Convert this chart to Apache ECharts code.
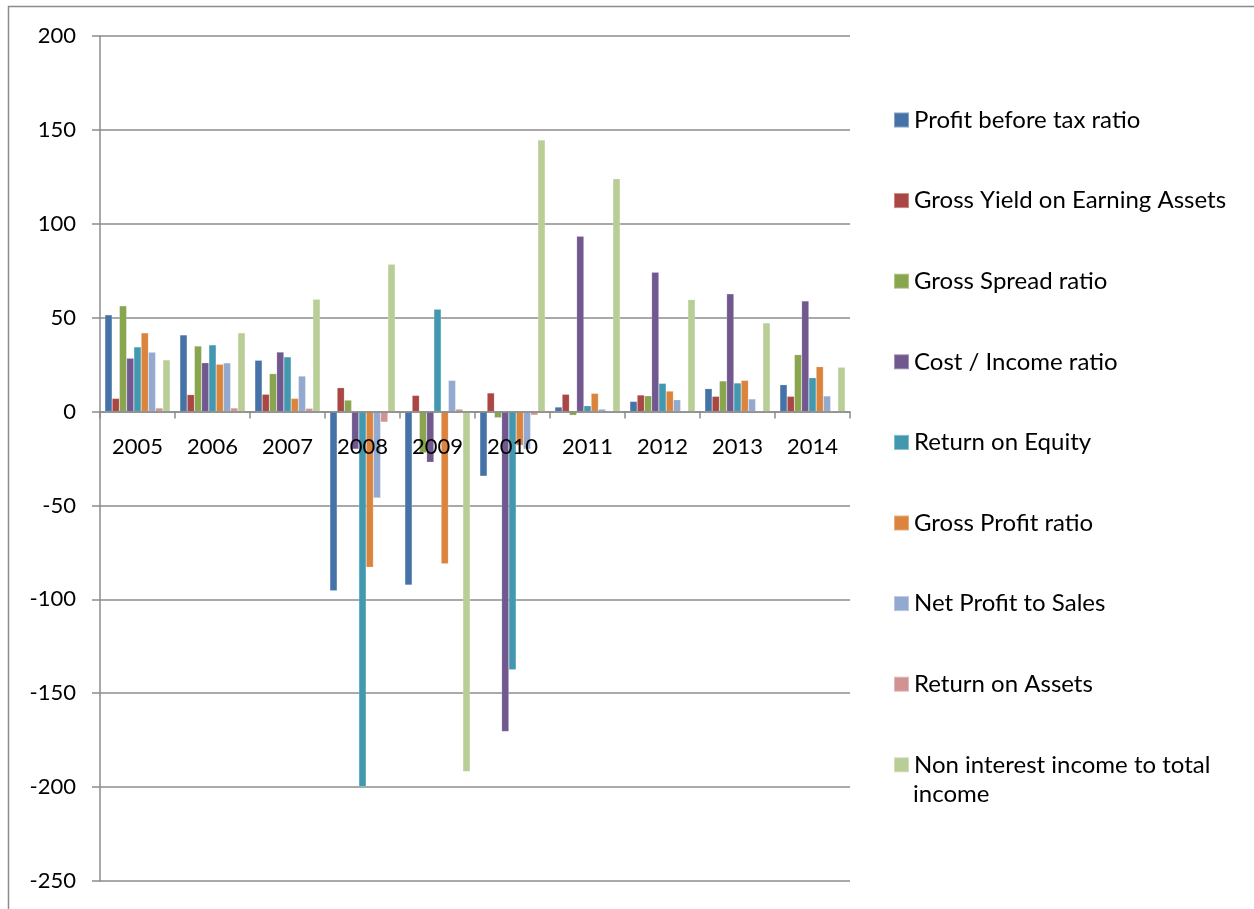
<!DOCTYPE html>
<html>
<head>
<meta charset="utf-8">
<script src="https://cdn.jsdelivr.net/npm/echarts@6/dist/echarts.min.js"></script>
<style>
  html, body { margin: 0; padding: 0; background: #fff; }
  #chart { width: 1254px; height: 909px; }
</style>
</head>
<body>
<div id="chart"></div>
<script>
// Years on the category axis
const years = ['2005', '2006', '2007', '2008', '2009', '2010', '2011', '2012', '2013', '2014'];

// Ratio series, one value per year
const profitBeforeTax   = [51.5, 40.8, 27.3, -95.4, -92.4, -34.4, 2.4, 5.4, 12.2, 14.3];
const grossYield        = [7.0, 9.0, 9.2, 12.7, 8.6, 9.9, 9.2, 8.8, 8.1, 8.1];
const grossSpread       = [56.3, 34.9, 20.2, 6.1, -22, -3.3, -2, 8.4, 16.3, 30.3];
const costIncome        = [28.4, 26.0, 31.7, -20, -27, -170.4, 93.4, 74.2, 62.7, 58.9];
const returnOnEquity    = [34.4, 35.5, 29.1, -199.7, 54.5, -137.5, 3.1, 15.0, 15.2, 18.0];
const grossProfit       = [41.9, 25.2, 7.0, -82.9, -81, -18, 9.7, 10.9, 16.6, 23.9];
const netProfitToSales  = [31.6, 25.9, 18.9, -46, 16.6, -20, 1.3, 6.3, 6.7, 8.3];
const returnOnAssets    = [1.9, 1.9, 1.7, -5.6, 1.3, -1.9, 0.3, 0.3, 0.3, 0.3];
const nonInterestIncome = [27.5, 41.9, 59.8, 78.5, -191.7, 144.6, 124, 59.6, 47.2, 23.6];

// Value axis range
const yMin = -250;
const yMax = 200;
const yStep = 50;

const seriesDefs = [
  { name: 'Profit before tax ratio', data: profitBeforeTax, color: '#4572A7' },
  { name: 'Gross Yield on Earning Assets', data: grossYield, color: '#AA4643' },
  { name: 'Gross Spread ratio', data: grossSpread, color: '#89A54E' },
  { name: 'Cost / Income ratio', data: costIncome, color: '#71588F' },
  { name: 'Return on Equity', data: returnOnEquity, color: '#4198AF' },
  { name: 'Gross Profit ratio', data: grossProfit, color: '#DB843D' },
  { name: 'Net Profit to Sales', data: netProfitToSales, color: '#93A9CF' },
  { name: 'Return on Assets', data: returnOnAssets, color: '#D19392' },
  { name: 'Non interest income to total income', data: nonInterestIncome, color: '#B9CD96' }
];

const FONT = 'Lato';
const AXIS_FONT_SIZE = 22;
const LEGEND_FONT_SIZE = 24;
const AXIS_GRAY = '#8c8c8c';

// Plot box in pixels
const GRID = { left: 100, top: 36, width: 750, height: 845 };
// Category labels sit just under the zero line rather than at the bottom edge
const zeroY = GRID.top + GRID.height * (yMax / (yMax - yMin));
const labelTop = zeroY + 24;
const xLabelMargin = labelTop - (GRID.top + GRID.height);

const chart = echarts.init(document.getElementById('chart'), null, { renderer: 'canvas' });

chart.setOption({
  animation: false,
  backgroundColor: '#ffffff',
  textStyle: { fontFamily: FONT },
  grid: {
    left: GRID.left, top: GRID.top, width: GRID.width, height: GRID.height,
    containLabel: false, outerBoundsMode: 'none'
  },
  legend: {
    orient: 'vertical',
    left: 893,
    top: 108,
    padding: 0,
    itemWidth: 15,
    itemHeight: 15,
    itemGap: 56.6,
    icon: 'rect',
    selectedMode: false,
    textStyle: { fontFamily: FONT, fontSize: LEGEND_FONT_SIZE, color: '#000', lineHeight: 24 },
    formatter: function (name) {
      return name === 'Non interest income to total income' ? 'Non interest income to total' : name;
    },
    data: seriesDefs.map(s => s.name)
  },
  graphic: [
    {
      type: 'rect',
      silent: true,
      shape: { x: 8.5, y: 6.5, width: 1400, height: 1000 },
      style: { fill: 'none', stroke: AXIS_GRAY, lineWidth: 1.5 }
    },
    {
      type: 'text',
      silent: true,
      left: 913,
      top: 782,
      style: { text: 'income', fontFamily: FONT, fontSize: LEGEND_FONT_SIZE, fill: '#000' }
    }
  ],
  xAxis: {
    type: 'category',
    data: years,
    axisLine: { onZero: true, lineStyle: { color: AXIS_GRAY, width: 1.5 } },
    axisTick: { show: true, length: 7, lineStyle: { color: AXIS_GRAY, width: 1.5 } },
    axisLabel: { color: '#000', fontSize: AXIS_FONT_SIZE, fontFamily: FONT, margin: xLabelMargin },
    splitLine: { show: false },
    z: 5
  },
  yAxis: {
    type: 'value',
    min: yMin,
    max: yMax,
    interval: yStep,
    axisLine: { show: true, lineStyle: { color: AXIS_GRAY, width: 1.5 } },
    axisTick: { show: true, length: 8, lineStyle: { color: AXIS_GRAY, width: 1.5 } },
    axisLabel: { color: '#000', fontSize: AXIS_FONT_SIZE, fontFamily: FONT, margin: 24 },
    splitLine: { show: true, lineStyle: { color: AXIS_GRAY, width: 1.5 } }
  },
  series: seriesDefs.map(s => ({
    name: s.name,
    type: 'bar',
    data: s.data,
    barGap: '0%',
    barCategoryGap: '13%',
    itemStyle: { color: s.color, borderColor: 'rgba(255,255,255,0.35)', borderWidth: 0.5 },
    emphasis: { disabled: true }
  }))
});
</script>
</body>
</html>
